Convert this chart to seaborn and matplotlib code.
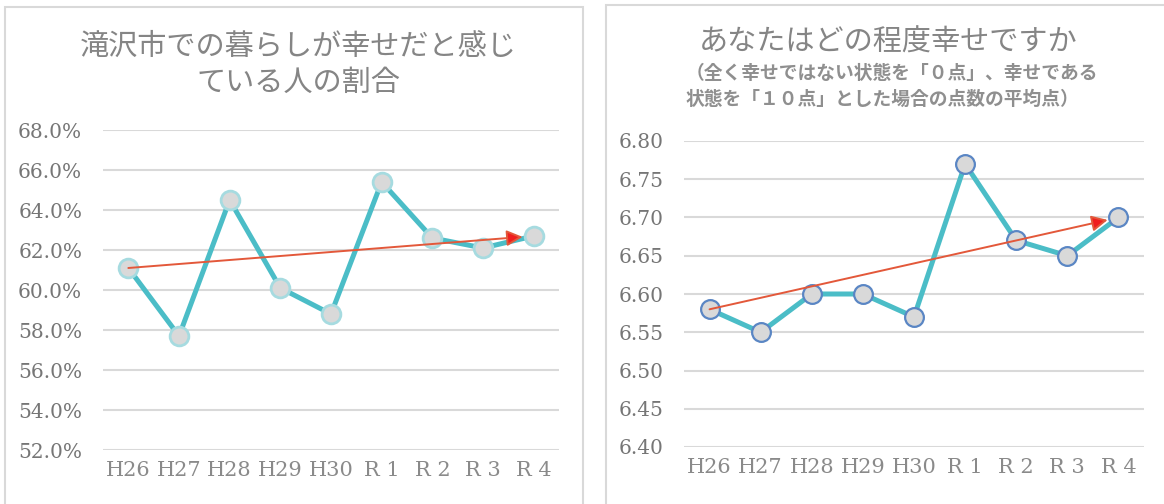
import matplotlib
matplotlib.use("Agg")
import matplotlib.pyplot as plt
from matplotlib.patches import Rectangle
from matplotlib.ticker import FuncFormatter, FixedLocator
import seaborn as sns

# Survey years (Heisei / Reiwa)
years = ["H26", "H27", "H28", "H29", "H30", "R 1", "R 2", "R 3", "R 4"]

# Share of residents who feel happy living in the city (%)
happy_share = [61.1, 57.7, 64.5, 60.1, 58.8, 65.4, 62.6, 62.1, 62.7]

# Average happiness score on a 0-10 scale
happy_score = [6.58, 6.55, 6.60, 6.60, 6.57, 6.77, 6.67, 6.65, 6.70]

left_ticks = [52, 54, 56, 58, 60, 62, 64, 66, 68]
right_ticks = [6.40, 6.45, 6.50, 6.55, 6.60, 6.65, 6.70, 6.75, 6.80]

sns.set_theme(style="white")
plt.rcParams["font.family"] = ["Noto Sans CJK JP", "DejaVu Sans"]

W, H = 1164, 504
fig = plt.figure(figsize=(W / 100, H / 100), dpi=100)
fig.patch.set_facecolor("white")


def px_axes(x0, y0, x1, y1):
    return fig.add_axes([x0 / W, 1 - y1 / H, (x1 - x0) / W, (y1 - y0) / H])


# panel frames
frame_kw = dict(transform=fig.transFigure, fill=False, ec="#d9d9d9", lw=1.5)
fig.patches.append(Rectangle((5 / W, -0.05), 578 / W, 1.05 - 7 / H, **frame_kw))
fig.patches.append(Rectangle((606 / W, -0.05), 0.6, 1.05 - 5 / H, **frame_kw))

LINE = "#4bbdc7"
GRID = "#d9d9d9"
TICK = "#767676"
serif = ["DejaVu Serif"]


def style_axes(ax, ticks, fmt, lims):
    ax.set_xlim(-0.5, len(years) - 0.5)
    ax.set_ylim(*lims)
    ax.yaxis.set_major_locator(FixedLocator(ticks))
    ax.yaxis.set_major_formatter(FuncFormatter(fmt))
    ax.grid(axis="y", color=GRID, lw=1.5)
    ax.grid(axis="x", visible=False)
    for s in ax.spines.values():
        s.set_visible(False)
    ax.tick_params(axis="y", length=0, pad=15, labelcolor=TICK, labelsize=14.5)
    ax.tick_params(axis="x", length=0, pad=8, labelcolor="#8a8a8a", labelsize=15)
    for lab in ax.get_xticklabels() + ax.get_yticklabels():
        lab.set_fontfamily(serif)
    ax.set_xlabel("")
    ax.set_ylabel("")
    ax.set_facecolor("none")
    ax.set_axisbelow(True)


def trend_arrow(ax, vals):
    ax.annotate(
        "", xy=(len(vals) - 1, vals[-1]), xytext=(0, vals[0]),
        arrowprops=dict(arrowstyle="-|>", ec="#e3583a", fc="#f01e1e",
                        lw=1.4, shrinkA=0, shrinkB=8, mutation_scale=24),
        zorder=6,
    )


# left: share of happy residents
axL = px_axes(103, 130, 559, 450)
sns.lineplot(x=years, y=happy_share, sort=False, ax=axL, color=LINE, lw=3.6,
             marker="o", markersize=13.5, markerfacecolor="#d9d9d9",
             markeredgecolor="#a6dbe0", markeredgewidth=2)
style_axes(axL, left_ticks, lambda v, p: f"{v:.1f}%", (52, 68))
trend_arrow(axL, happy_share)

# right: average happiness score
axR = px_axes(684, 141, 1144, 447)
sns.lineplot(x=years, y=happy_score, sort=False, ax=axR, color=LINE, lw=3.6,
             marker="o", markersize=13.5, markerfacecolor="#d9d9d9",
             markeredgecolor="#5a86c4", markeredgewidth=1.6)
style_axes(axR, right_ticks, lambda v, p: f"{v:.2f}", (6.40, 6.80))
trend_arrow(axR, happy_score)

# titles
TITLE = "#858585"
fig.text(298 / W, 1 - 47 / H, "滝沢市での暮らしが幸せだと感じ", ha="center", va="center",
         fontsize=21, color=TITLE)
fig.text(298 / W, 1 - 83 / H, "ている人の割合", ha="center", va="center",
         fontsize=21, color=TITLE)
fig.text(888 / W, 1 - 43 / H, "あなたはどの程度幸せですか", ha="center", va="center",
         fontsize=21, color=TITLE)
fig.text(686 / W, 1 - 73 / H, "（全く幸せではない状態を「０点」、幸せである",
         ha="left", va="center", fontsize=13.5, color="#8f8f8f", fontweight="bold")
fig.text(686 / W, 1 - 99 / H, "状態を「１０点」とした場合の点数の平均点）",
         ha="left", va="center", fontsize=13.5, color="#8f8f8f", fontweight="bold")

fig.savefig("out.png", dpi=100, facecolor="white")
